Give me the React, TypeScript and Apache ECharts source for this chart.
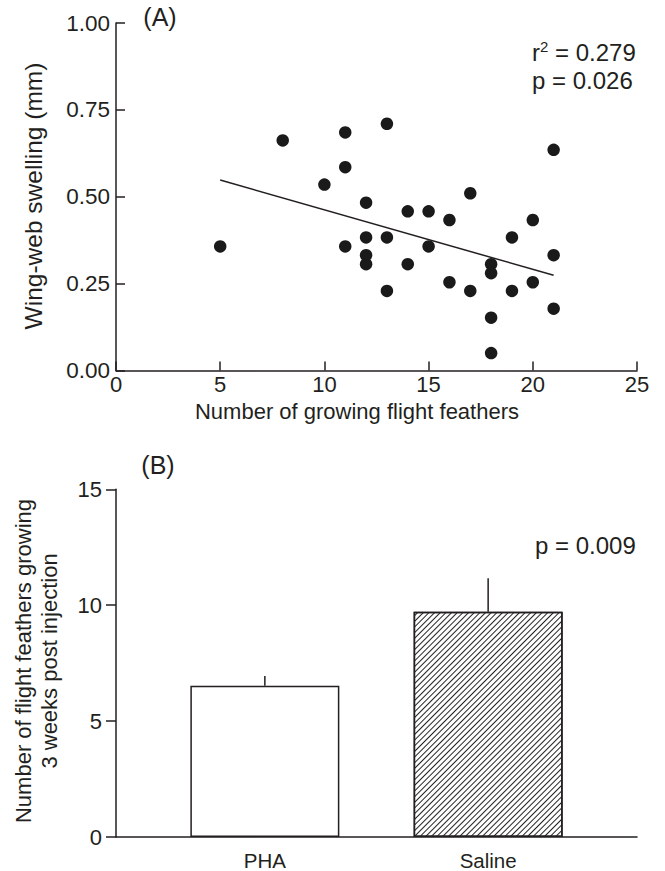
import React, { useEffect, useRef } from "react";
import * as echarts from "echarts";

// Panel A: wing-web swelling vs number of growing flight feathers
const feathersX = [13, 11, 21, 11, 10, 17, 12, 14, 15, 16, 20, 12, 13, 19, 11, 15, 12, 21, 12, 14, 18, 18, 16, 20, 13, 17, 19, 21, 18, 18, 5, 8];
const swellingY = [0.71, 0.685, 0.635, 0.585, 0.535, 0.51, 0.483, 0.458, 0.458, 0.433, 0.433, 0.383, 0.383, 0.383, 0.357, 0.357, 0.332, 0.332, 0.306, 0.306, 0.306, 0.28, 0.254, 0.254, 0.229, 0.229, 0.229, 0.178, 0.152, 0.05, 0.357, 0.662];
const fitX = [5, 21];
const fitY = [0.548, 0.274];
const statsA = ["0.279", "0.026"];

// Panel B: feathers growing 3 weeks post injection
const groups = ["PHA", "Saline"];
const groupMeans = [6.52, 9.72];
const groupSE = [0.43, 1.44];
const statB = "0.009";

const FONT = "'Liberation Sans', Arial, Helvetica, sans-serif";
const INK = "#231f20";

export default function App() {
  const ref = useRef<HTMLDivElement>(null);
  useEffect(() => {
    document.body.style.margin = "0";
    if (!ref.current) return;
    const chart = echarts.init(ref.current, null, { renderer: "svg" });

    const groupPos = groups.map((_, i) => 1 + i * 1.5);
    const scatterData = feathersX.map((x, i) => [x, swellingY[i]]);
    const fitData = fitX.map((x, i) => [x, fitY[i]]);

    const axisLine = { show: true, lineStyle: { color: INK, width: 1.5 } };
    const tickLabel = { color: INK, fontSize: 22, fontFamily: FONT };

    const option: any = {
      animation: false,
      backgroundColor: "#fff",
      textStyle: { fontFamily: FONT },
      grid: [
        { left: 116, top: 23, width: 521, height: 347.5 },
        { left: 116, top: 489.3, width: 521, height: 348 },
      ],
      xAxis: [
        {
          gridIndex: 0, type: "value", min: 0, max: 25, interval: 5,
          axisLine, splitLine: { show: false },
          axisTick: { show: true, inside: true, length: 9, lineStyle: { color: INK, width: 1.5 } },
          axisLabel: { ...tickLabel, margin: 3 },
        },
        {
          gridIndex: 1, type: "value", min: 0, max: 3.5, interval: 0.5,
          axisLine, splitLine: { show: false },
          axisTick: { show: false },
          axisLabel: {
            ...tickLabel, fontSize: 20.5, margin: 13, showMinLabel: true, showMaxLabel: true,
            formatter: (v: number) => {
              const idx = groupPos.findIndex((p) => Math.abs(p - v) < 1e-6);
              return idx >= 0 ? groups[idx] : "";
            },
          },
        },
      ],
      yAxis: [
        {
          gridIndex: 0, type: "value", min: 0, max: 1, interval: 0.25,
          axisLine, splitLine: { show: false },
          axisTick: { show: true, inside: true, length: 9, lineStyle: { color: INK, width: 1.5 } },
          axisLabel: { ...tickLabel, fontSize: 22.5, margin: 6, formatter: (v: number) => v.toFixed(2) },
        },
        {
          gridIndex: 1, type: "value", min: 0, max: 15, interval: 5,
          axisLine, splitLine: { show: false },
          axisTick: { show: true, inside: false, length: 10, lineStyle: { color: INK, width: 1.5 } },
          axisLabel: { ...tickLabel, margin: 14 },
        },
      ],
      series: [
        {
          type: "scatter", xAxisIndex: 0, yAxisIndex: 0, data: scatterData,
          symbol: "circle", symbolSize: 12.5, itemStyle: { color: "#1a1a1a", opacity: 1 }, z: 3,
        },
        {
          type: "line", xAxisIndex: 0, yAxisIndex: 0, data: fitData,
          showSymbol: false, symbol: "none", lineStyle: { color: INK, width: 1.5 }, z: 2,
        },
        {
          type: "bar", xAxisIndex: 1, yAxisIndex: 1, barWidth: 149,
          data: groupMeans.map((m, i) => ({
            value: [groupPos[i], m],
            itemStyle: i === 0
              ? { color: "#fff", borderColor: INK, borderWidth: 1.5 }
              : {
                  color: "#fff", borderColor: INK, borderWidth: 1.5,
                  decal: {
                    symbol: "rect", symbolSize: 1, color: "#222", backgroundColor: "#fff",
                    dashArrayX: [1, 0], dashArrayY: [1, 3], rotation: -Math.PI / 4,
                  },
                },
          })),
        },
        {
          type: "custom", xAxisIndex: 1, yAxisIndex: 1,
          data: groupMeans.map((m, i) => [groupPos[i], m, groupSE[i]]),
          renderItem: (_params: any, api: any) => {
            const x = api.value(0), y = api.value(1), e = api.value(2);
            const p0 = api.coord([x, y]);
            const p1 = api.coord([x, y + e]);
            return {
              type: "line",
              shape: { x1: p0[0], y1: p0[1], x2: p1[0], y2: p1[1] },
              style: { stroke: INK, lineWidth: 1.5 },
            };
          },
          z: 5,
        },
      ],
      graphic: [
        { type: "text", x: 160, y: 17, style: { text: "(A)", font: `25px ${FONT}`, fill: INK, textAlign: "center", textVerticalAlign: "middle" } },
        {
          type: "text", x: 532, y: 52,
          style: {
            text: `{a|r}{s|2}{a| = ${statsA[0]}}`, fill: INK, textAlign: "left", textVerticalAlign: "middle",
            rich: {
              a: { fontSize: 24, fontFamily: FONT, color: INK, lineHeight: 26 },
              s: { fontSize: 15, fontFamily: FONT, color: INK, lineHeight: 26, verticalAlign: "top", padding: [0, 0, 10, 0] },
            },
          },
        },
        { type: "text", x: 532, y: 80, style: { text: `p = ${statsA[1]}`, font: `24px ${FONT}`, fill: INK, textAlign: "left", textVerticalAlign: "middle" } },
        { type: "text", x: 357, y: 411, style: { text: "Number of growing flight feathers", font: `22px ${FONT}`, fill: INK, textAlign: "center", textVerticalAlign: "middle" } },
        { type: "text", x: 33, y: 196, rotation: Math.PI / 2, style: { text: "Wing-web swelling (mm)", font: `24.5px ${FONT}`, fill: INK, textAlign: "center", textVerticalAlign: "middle" } },
        { type: "text", x: 158, y: 465, style: { text: "(B)", font: `25px ${FONT}`, fill: INK, textAlign: "center", textVerticalAlign: "middle" } },
        { type: "text", x: 535, y: 545, style: { text: `p = ${statB}`, font: `24px ${FONT}`, fill: INK, textAlign: "left", textVerticalAlign: "middle" } },
        { type: "text", x: 23, y: 661, rotation: Math.PI / 2, style: { text: "Number of flight feathers growing", font: `22px ${FONT}`, fill: INK, textAlign: "center", textVerticalAlign: "middle" } },
        { type: "text", x: 49, y: 661, rotation: Math.PI / 2, style: { text: "3 weeks post injection", font: `22px ${FONT}`, fill: INK, textAlign: "center", textVerticalAlign: "middle" } },
      ],
    };
    chart.setOption(option);
    return () => chart.dispose();
  }, []);
  return <div ref={ref} style={{ width: 665, height: 871 }} />;
}
